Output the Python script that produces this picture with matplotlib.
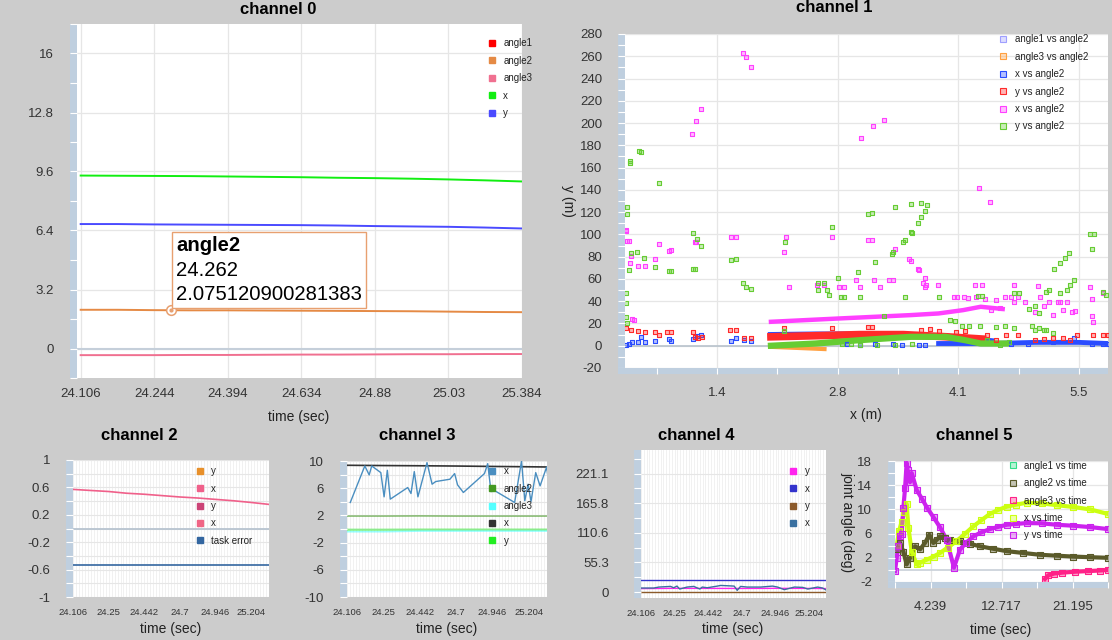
import matplotlib
matplotlib.use("Agg")
import matplotlib.pyplot as plt
from matplotlib.lines import Line2D
from matplotlib.patches import Rectangle
from matplotlib.colors import to_rgba
from matplotlib.ticker import MultipleLocator, FixedLocator, FixedFormatter, FuncFormatter
from matplotlib.offsetbox import TextArea, VPacker, AnnotationBbox

plt.rcParams['font.family'] = ['Liberation Sans', 'DejaVu Sans']
plt.rcParams['axes.unicode_minus'] = False

# --- channel 0 : time series ---
ch0_times = ['24.106', '24.244', '24.394', '24.634', '24.88', '25.03', '25.384']
ch0_idx = [0, 0.5, 1, 1.5, 2, 2.5, 3, 3.5, 4, 4.5, 5, 5.5, 6]
ch0_angle1 = []
ch0_angle2 = [2.10, 2.10, 2.08, 2.07, 2.07, 2.06, 2.05, 2.04, 2.03, 2.02, 2.00, 1.98, 1.97]
ch0_angle3 = [-0.36, -0.36, -0.36, -0.35, -0.35, -0.34, -0.33, -0.33, -0.32, -0.31, -0.31, -0.30, -0.30]
ch0_x = [9.38, 9.37, 9.36, 9.35, 9.33, 9.31, 9.29, 9.26, 9.24, 9.21, 9.17, 9.12, 9.06]
ch0_y = [6.75, 6.75, 6.73, 6.72, 6.71, 6.70, 6.69, 6.67, 6.64, 6.62, 6.60, 6.56, 6.51]
ch0_labels = ['angle1', 'angle2', 'angle3', 'x', 'y']
ch0_colors = ['#ff0000', '#e58a45', '#f07090', '#11ee11', '#4a4aff']
tip_label = 'angle2'
tip_time = '24.262'
tip_value = 2.075120900281383
tip_index = 1.23

# --- channel 1 : x/y vs angle2 scatter ---
ch1_labels = ['angle1 vs angle2', 'angle3 vs angle2', 'x vs angle2', 'y vs angle2', 'x vs angle2', 'y vs angle2']
ch1_colors = ['#9f9fff', '#ffa040', '#2a4cff', '#ff2a2a', '#ff40ff', '#66cc33']
mag_x = [1.67, 1.71, 1.76, 1.09, 1.14, 1.19, 3.02, 3.15, 3.28, 4.36, 4.48, 0.34, 0.34, 0.35, 0.37, 0.38, 0.39,
         0.47, 0.55, 0.72, 0.67, 0.83, 0.85, 1.12, 1.14, 1.53, 1.59, 2.16, 2.14, 2.20, 0.41, 0.43, 2.68, 2.51,
         2.59, 2.77, 2.82, 2.96, 3.00, 3.10, 3.14, 3.16, 3.23, 3.34, 3.38, 3.40, 3.56, 3.59, 3.66, 3.68, 3.72,
         3.74, 3.76, 3.74, 3.89, 4.07, 4.11, 4.19, 4.23, 4.31, 4.39, 4.33, 4.43, 4.55, 4.76, 4.66, 4.72, 4.76,
         4.80, 4.88, 5.03, 5.06, 5.16, 5.28, 5.26, 5.36, 5.32, 5.42, 5.63, 5.65, 5.65, 5.66, 5.77, 4.50, 4.60,
         5.00, 5.10, 5.20, 5.45]
mag_y = [263, 259, 250, 190, 202, 213, 187, 197, 203, 142, 129, 104, 103, 94, 94, 74, 81,
         72, 72, 91, 78, 85, 86, 93, 93, 98, 98, 98, 84, 53, 24, 23, 98, 55,
         55, 53, 53, 59, 53, 95, 95, 59, 53, 59, 59, 87, 78, 76, 69, 68, 56,
         53, 55, 61, 55, 44, 44, 44, 43, 55, 55, 44, 42, 41, 55, 44, 44, 39,
         44, 39, 54, 44, 39, 39, 39, 39, 32, 30, 53, 42, 27, 21, 47, 32, 34,
         30, 36, 28, 31]
mag_band_x = [1.99, 2.77, 3.58, 3.90, 4.18, 4.38, 4.63]
mag_band_y = [21.5, 24.5, 27.5, 29, 32, 35, 33]
grn_x = [0.35, 0.35, 0.38, 0.38, 0.49, 0.51, 0.72, 0.34, 0.34, 0.34, 0.35, 0.40, 0.46, 0.54, 0.37, 0.67,
         0.83, 0.85, 1.10, 1.15, 1.19, 1.10, 1.12, 1.53, 1.59, 1.67, 1.71, 1.76, 2.14, 2.15, 2.53, 2.53,
         2.59, 2.63, 2.65, 2.69, 2.75, 2.79, 2.82, 2.98, 3.00, 3.10, 3.14, 3.18, 3.28, 3.40, 3.52, 3.37,
         3.38, 3.49, 3.52, 3.59, 3.60, 3.66, 3.70, 3.74, 3.77, 3.70, 3.58, 3.91, 4.35, 4.39, 4.82, 4.76,
         4.93, 5.00, 5.04, 5.12, 5.16, 5.22, 5.28, 5.34, 5.38, 5.28, 5.36, 5.40, 5.44, 5.63, 5.67, 5.65,
         5.77, 5.81, 2.80, 2.90, 3.00, 3.20, 3.40, 3.60, 4.03, 4.09, 4.17, 4.25, 4.37, 4.55, 4.66, 4.76,
         4.96, 5.04, 5.12, 5.20, 5.00, 5.10, 4.45, 4.60, 4.70]
grn_y = [125, 118, 166, 164, 175, 174, 146, 47, 38, 26, 20, 83, 84, 79, 68, 71,
         67, 67, 101, 96, 90, 69, 69, 77, 78, 56, 53, 51, 13, 93, 50, 56,
         56, 50, 46, 107, 61, 44, 44, 66, 44, 118, 119, 75, 27, 125, 44, 82,
         84, 93, 95, 102, 101, 110, 116, 121, 126, 128, 127, 44, 45, 45, 47, 47,
         33, 36, 29, 48, 50, 69, 74, 79, 83, 47, 50, 55, 59, 100, 100, 87,
         48, 46, 2, 2, 1, 1, 1, 2, 23, 22, 18, 18, 18, 17, 18, 16,
         18, 16, 14, 11, 14, 14, 5, 1, 3]
grn_band_x = [1.99, 2.50, 3.00, 3.58, 3.98, 4.20, 4.38, 4.67]
grn_band_y = [0, 2, 5, 8, 8, 5, 2, 2]
red_x = [0.34, 0.39, 0.47, 0.55, 0.67, 0.71, 0.81, 0.85, 1.10, 1.12, 1.16, 1.20, 1.52, 1.59, 1.68, 1.76,
         2.14, 2.68, 3.10, 3.14, 4.45, 4.55, 4.67, 4.80, 5.00, 5.32, 5.48, 5.66, 5.77, 5.83, 4.10, 4.20,
         3.90, 3.80, 3.70, 5.10, 5.20, 5.40]
red_y = [15.5, 14, 13, 12.5, 12, 10, 12.5, 12.5, 12.5, 8, 7, 8, 14, 14, 6.6, 6.6,
         15.5, 15.5, 17, 17, 10, 5, 10, 9.5, 5, 6.5, 9.5, 9.5, 9.5, 10, 12, 13,
         13, 15, 14, 6, 7, 5]
red_band_x = [1.99, 2.50, 3.00, 3.50, 4.00, 4.40]
red_band_y = [8, 9, 10, 10, 8, 6]
blu_x = [0.34, 0.37, 0.41, 0.47, 0.51, 0.55, 0.67, 0.83, 0.85, 1.10, 1.15, 1.19, 1.53, 1.59, 1.68, 1.76,
         2.86, 3.00, 3.18, 3.38, 3.48, 3.68, 3.74, 4.72, 4.92, 5.20, 5.44, 5.65, 5.77, 5.83]
blu_y = [0.6, 2, 3, 3.6, 7.5, 3, 4.5, 5.7, 4, 5.7, 8.7, 9.5, 4.5, 6.6, 5, 4,
         1.5, 0.6, 2, 2, 1, 0.6, 0.6, 2, 2, 3.5, 6.6, 2, 2, 2]
blu_band_x = [1.99, 2.50, 3.00, 3.50, 4.00, 4.50]
blu_band_y = [9.5, 10, 10, 9.5, 8, 4]
blu_band2_x = [3.90, 4.50, 5.00, 5.50, 5.83]
blu_band2_y = [2, 2, 3, 3, 2]
org_band_x = [1.99, 2.30, 2.60]
org_band_y = [-1, -2, -3]

# --- channel 2 ---
ch2_times = ['24.106', '24.25', '24.442', '24.7', '24.946', '25.204']
ch2_labels = ['y', 'x', 'y', 'x', 'task error']
ch2_colors = ['#e8902a', '#f0608a', '#cc4477', '#f06585', '#3366a0']
ch2_idx = [0, 0.5, 1, 1.5, 2, 2.5, 3, 3.5, 4, 4.5, 5, 5.5]
ch2_x = [0.571, 0.555, 0.54, 0.515, 0.50, 0.48, 0.46, 0.445, 0.425, 0.405, 0.38, 0.352]
ch2_task_error = [-0.526] * 12

# --- channel 3 ---
ch3_times = ['24.106', '24.25', '24.442', '24.7', '24.946', '25.204']
ch3_labels = ['x', 'angle2', 'angle3', 'x', 'y']
ch3_colors = ['#4a8ec0', '#449922', '#55ffff', '#333333', '#22ee22']
ch3_x1_idx = [0.09, 0.49, 0.61, 0.68, 0.93, 1.02, 1.11, 1.19, 1.67, 1.76, 1.85, 1.95, 2.20, 2.34, 2.44,
              2.83, 2.96, 3.04, 3.20, 3.78, 3.87, 3.96, 4.07, 4.61, 4.80, 4.89, 4.98, 5.06, 5.19, 5.31,
              5.49, 5.56]
ch3_x1 = [3.9, 9.27, 7.95, 9.27, 8.29, 4.73, 8.63, 4.39, 6.1, 5.22, 8.44, 4.73, 9.76, 6.59, 6.98,
          7.32, 8.15, 6.49, 5.37, 8.15, 9.61, 5.51, 5.61, 3.9, 10.0, 4.15, 6.59, 4.05, 8.29, 6.34,
          9.12, 6.2]
ch3_idx = [0, 1, 2, 3, 4, 5, 5.5]
ch3_angle2 = [1.9, 1.9, 1.92, 1.9, 1.9, 1.9, 1.9]
ch3_angle3 = [-0.4, -0.4, -0.3, -0.3, -0.3, -0.3, -0.3]
ch3_x2 = [9.37, 9.33, 9.30, 9.26, 9.20, 9.15, 9.12]
ch3_y = [-0.12, -0.12, -0.1, -0.1, -0.1, -0.1, -0.1]

# --- channel 4 ---
ch4_times = ['24.106', '24.25', '24.442', '24.7', '24.946', '25.204']
ch4_labels = ['y', 'x', 'y', 'x']
ch4_colors = ['#ff22ee', '#3333cc', '#8b5a2b', '#3a70a0']
ch4_ticks = [0, 55.275, 110.55, 165.825, 221.1]
ch4_ticklabels = ['0', '55.3', '110.6', '165.8', '221.1']
ch4_idx = [0, 1, 2, 3, 4, 5, 5.5]
ch4_y1 = [6.5, 7.0, 6.9, 6.8, 7.0, 6.9, 6.6]
ch4_x1 = [21.9, 21.9, 21.9, 21.9, 21.9, 21.9, 21.9]
ch4_y2 = [0, 0, 0, 0, 0, 0, 0]
ch4_x2_idx = [0.0, 0.38, 0.53, 0.88, 0.97, 1.07, 1.15, 1.37, 1.57, 1.75, 1.82, 1.97, 2.27, 2.37, 2.77,
              2.86, 2.96, 3.16, 3.56, 3.91, 4.06, 4.26, 4.56, 4.81, 4.96, 5.25, 5.40, 5.52]
ch4_x2 = [7.6, 7.6, 9.4, 10.6, 8.1, 11.2, 5.7, 9.4, 10.6, 5.7, 9.4, 8.1, 11.2, 12.4, 11.2,
          3.2, 10.6, 9.4, 9.4, 11.2, 9.4, 4.5, 9.4, 8.8, 5.7, 9.4, 7.6, 3.2]

# --- channel 5 : joint angles vs time ---
ch5_labels = ['angle1 vs time', 'angle2 vs time', 'angle3 vs time', 'x vs time', 'y vs time']
ch5_colors = ['#33dd88', '#5a5a2a', '#ff2288', '#ccff11', '#cc22ee']
a1_t, a1_v = [], []
a2_t = [0.2, 0.6, 1.0, 1.39, 1.8, 2.4, 3.0, 3.6, 4.1, 4.58, 5.0, 5.37, 6.0, 6.57, 7.76, 9.0, 10.15,
        11.7, 13.33, 15.3, 17.3, 19.3, 21.3, 23.3, 25.4]
a2_v = [3.5, 4.5, 3.0, 0.9, 2.0, 3.9, 3.4, 4.5, 5.8, 4.45, 5.0, 5.55, 5.2, 5.0, 4.7, 4.3, 3.9,
        3.5, 3.1, 2.8, 2.5, 2.35, 2.2, 2.1, 2.0]
a3_t = [17.9, 18.3, 19.0, 20.0, 21.5, 23.0, 24.5, 25.4]
a3_v = [-1.5, -0.9, -0.6, -0.45, -0.3, -0.2, -0.1, 0.0]
xt_t = [0.2, 0.5, 0.8, 1.1, 1.39, 1.6, 2.0, 2.59, 3.0, 3.8, 4.6, 5.37, 6.3, 7.3, 8.3, 9.35, 10.3,
        11.34, 12.3, 13.33, 14.5, 15.72, 17.5, 19.3, 21.3, 23.3, 25.4]
xt_v = [4.0, 6.5, 8.0, 9.5, 10.9, 7.0, 3.0, 0.9, 1.2, 1.7, 2.2, 2.8, 3.7, 4.7, 5.9, 7.2, 8.2,
        9.26, 9.9, 10.45, 10.8, 11.1, 11.0, 10.7, 10.4, 10.0, 9.26]
yt_t = [0.0, 0.2, 0.4, 0.6, 0.8, 1.0, 1.2, 1.39, 1.5, 1.79, 2.0, 2.59, 3.2, 3.86, 4.6, 5.37, 6.17,
        7.04, 7.76, 8.5, 9.35, 10.3, 11.34, 12.3, 13.33, 14.5, 15.72, 17.5, 19.3, 21.3, 23.3, 25.4]
yt_v = [-0.2, 2.0, 4.0, 5.6, 6.0, 10.3, 13.5, 17.7, 16.5, 14.5, 16.0, 13.2, 11.8, 10.2, 8.7, 7.06,
        5.0, 0.36, 3.36, 4.5, 5.55, 6.2, 6.75, 7.1, 7.46, 7.6, 7.74, 7.7, 7.46, 7.3, 7.08, 6.75]

# --- layout / styling ---
W, H = 1112, 640
BAND = '#bfcfdf'
GRID = '#e6e6e6'
TICKC = '#333333'

fig = plt.figure(figsize=(W / 100, H / 100), dpi=100, facecolor='#cccccc')


def panel(l, t, r, b, bottom=False, ypad=11.5, xpad=7.5, xsize=9.5):
    ax = fig.add_axes([l / W, 1 - b / H, (r - l) / W, (b - t) / H])
    ax.set_facecolor('white')
    for s in ax.spines.values():
        s.set_visible(False)
    ax.set_axisbelow(True)
    ax.tick_params(axis='y', which='both', left=False, labelleft=False)
    lb = fig.add_axes([(l - 7) / W, 1 - b / H, 7 / W, (b - t) / H], sharey=ax)
    lb.set_facecolor(BAND)
    for s in lb.spines.values():
        s.set_visible(False)
    lb.tick_params(axis='x', which='both', bottom=False, labelbottom=False)
    lb.tick_params(axis='y', which='both', direction='in', length=5.04, width=0.8,
                   color='white', pad=ypad, labelsize=9.5, labelcolor=TICKC)
    if bottom:
        bb = fig.add_axes([l / W, 1 - (b + 6) / H, (r - l) / W, 6 / H], sharex=ax)
        bb.set_facecolor(BAND)
        for s in bb.spines.values():
            s.set_visible(False)
        bb.tick_params(axis='y', which='both', left=False, labelleft=False)
        bb.tick_params(axis='x', which='both', direction='in', length=4.32, width=0.8,
                       color='white', pad=xpad, labelsize=xsize, labelcolor=TICKC)
        ax.tick_params(axis='x', which='both', bottom=False, labelbottom=False)
        fig.add_artist(Rectangle(((l - 7) / W, 1 - (b + 6) / H), 7 / W, 6 / H,
                                 transform=fig.transFigure, fc=BAND, ec='none'))
    else:
        ax.tick_params(axis='x', which='both', length=0, pad=xpad, labelsize=xsize, labelcolor=TICKC)
    return ax


def add_legend(ax, labels, colors, cx, cy, hollow=False, ms=4.0):
    if hollow:
        handles = [Line2D([], [], ls='none', marker='s', ms=ms, mec=c, mfc=to_rgba(c, 0.35), mew=0.8)
                   for c in colors]
    else:
        handles = [Line2D([], [], ls='none', marker='s', ms=ms, mec=c, mfc=c) for c in colors]
    leg = ax.legend(handles, labels, loc='upper left', bbox_to_anchor=((cx - 3.9) / W, 1 - (cy - 5.5) / H),
                    bbox_transform=fig.transFigure, frameon=False, fontsize=7, handlelength=0.8,
                    handletextpad=0.75, labelspacing=0.76, borderpad=0, borderaxespad=0)
    for txt in leg.get_texts():
        txt.set_color('#222222')


def title(cx, cy, s):
    fig.text(cx / W, 1 - cy / H, s, ha='center', va='center', fontsize=12, weight='bold')


def label(cx, cy, s, rot=0):
    fig.text(cx / W, 1 - cy / H, s, ha='center', va='center', fontsize=10, rotation=rot, color='#222222')


def clean(v, p):
    return f'{v:.1f}'.rstrip('0').rstrip('.')


# channel 0
ax0 = panel(77, 24, 522, 378)
ax0.set_xlim(-0.05, 6)
ax0.set_ylim(-1.6, 17.6)
ax0.xaxis.set_major_locator(FixedLocator(range(len(ch0_times))))
ax0.xaxis.set_major_formatter(FixedFormatter(ch0_times))
ax0.yaxis.set_major_locator(MultipleLocator(3.2))
ax0.yaxis.set_minor_locator(MultipleLocator(1.6))
ax0.yaxis.set_major_formatter(FuncFormatter(lambda v, p: f'{v:g}'))
ax0.grid(True, which='major', color=GRID, lw=0.9)
ax0.axhline(0, color='#c5cfda', lw=1.5, zorder=1.5)
ax0.plot([], [], color=ch0_colors[0])
for vals, c in zip([ch0_angle2, ch0_angle3, ch0_x, ch0_y], ch0_colors[1:]):
    ax0.plot(ch0_idx, vals, color=c, lw=1.4, zorder=3)
add_legend(ax0, ch0_labels, ch0_colors, 492, 44)
ax0.plot(tip_index, tip_value, 'o', ms=7, mfc='white', mec='#e8a070', mew=1.1, zorder=5)
ax0.plot(tip_index, tip_value, 'o', ms=2, mfc='#e8a070', mec='#e8a070', zorder=6)
tip_lines = VPacker(children=[TextArea(tip_label, textprops=dict(size=14.6, weight='bold', color='black')),
                              TextArea(tip_time, textprops=dict(size=14.6, color='black')),
                              TextArea(str(tip_value), textprops=dict(size=14.6, color='black'))],
                    align='left', pad=0, sep=4)
ab = AnnotationBbox(tip_lines, (tip_index, tip_value), xybox=(5, 6), xycoords='data',
                    boxcoords='offset pixels', box_alignment=(0, 0), pad=0.3,
                    bboxprops=dict(fc='white', ec='#e8a070', lw=1, boxstyle='square'), zorder=7)
ax0.add_artist(ab)
title(278, 9, 'channel 0')
label(299, 417, 'time (sec)')

# channel 1
ax1 = panel(625, 34, 1108, 368, bottom=True, xpad=9)
ax1.set_xlim(0.327, 5.83)
ax1.set_ylim(-20, 280)
ax1.xaxis.set_major_locator(MultipleLocator(1.375))
ax1.xaxis.set_minor_locator(MultipleLocator(0.6875))
ax1.xaxis.set_major_formatter(FuncFormatter(lambda v, p: f'{v:.1f}'))
ax1.yaxis.set_major_locator(MultipleLocator(20))
ax1.yaxis.set_minor_locator(MultipleLocator(10))
ax1.yaxis.set_major_formatter(FuncFormatter(lambda v, p: f'{v:g}'))
ax1.grid(True, which='major', color=GRID, lw=0.9)
ax1.axhline(0, color='#b8c2cc', lw=1.2, zorder=1.5)
for bx, by, c, w in [(org_band_x, org_band_y, ch1_colors[1], 3.0),
                     (blu_band_x, blu_band_y, ch1_colors[2], 4.5),
                     (blu_band2_x, blu_band2_y, ch1_colors[2], 3.5),
                     (red_band_x, red_band_y, ch1_colors[3], 5.5),
                     (mag_band_x, mag_band_y, ch1_colors[4], 3.2),
                     (grn_band_x, grn_band_y, ch1_colors[5], 4.5)]:
    ax1.plot(bx, by, color=c, lw=w, zorder=3)
for sx, sy, c in [(blu_x, blu_y, ch1_colors[2]), (red_x, red_y, ch1_colors[3]),
                  (mag_x, mag_y, ch1_colors[4]), (grn_x, grn_y, ch1_colors[5])]:
    ax1.scatter(sx, sy, marker='s', s=10, facecolors=to_rgba(c, 0.35), edgecolors=c, linewidths=0.8, zorder=4)
add_legend(ax1, ch1_labels, ch1_colors, 1003.5, 40, hollow=True, ms=4.5)
title(834, 8, 'channel 1')
label(866, 415, 'x (m)')
label(568, 201, 'y (m)', rot=270)

# channel 2
ax2 = panel(73, 460, 269, 597, xpad=8, xsize=6.8)
ax2.set_xlim(0, 5.5)
ax2.set_ylim(-1, 1)
ax2.xaxis.set_major_locator(FixedLocator(range(len(ch2_times))))
ax2.xaxis.set_major_formatter(FixedFormatter(ch2_times))
ax2.xaxis.set_minor_locator(MultipleLocator(1 / 12))
ax2.yaxis.set_major_locator(MultipleLocator(0.4, offset=0.2))
ax2.yaxis.set_minor_locator(MultipleLocator(0.2))
ax2.yaxis.set_major_formatter(FuncFormatter(clean))
ax2.grid(True, axis='y', which='both', color=GRID, lw=0.8)
ax2.grid(True, axis='x', which='both', color='#efefef', lw=0.6)
ax2.axhline(0, color='#b8c4d0', lw=1.3, zorder=1.5)
ax2.plot(ch2_idx, ch2_x, color=ch2_colors[1], lw=1.2, zorder=3)
ax2.plot(ch2_idx, ch2_task_error, color=ch2_colors[4], lw=1.2, zorder=3)
add_legend(ax2, ch2_labels, ch2_colors, 200, 471.7)
title(139, 435, 'channel 2')
label(171, 629, 'time (sec)')

# channel 3
ax3 = panel(347, 461, 547, 597, xpad=8, xsize=6.8)
ax3.set_xlim(0, 5.5)
ax3.set_ylim(-10, 10)
ax3.xaxis.set_major_locator(FixedLocator(range(len(ch3_times))))
ax3.xaxis.set_major_formatter(FixedFormatter(ch3_times))
ax3.xaxis.set_minor_locator(MultipleLocator(1 / 12))
ax3.yaxis.set_major_locator(MultipleLocator(4, offset=2))
ax3.yaxis.set_minor_locator(MultipleLocator(2))
ax3.yaxis.set_major_formatter(FuncFormatter(lambda v, p: f'{v:g}'))
ax3.grid(True, axis='y', which='both', color=GRID, lw=0.8)
ax3.grid(True, axis='x', which='both', color='#efefef', lw=0.6)
ax3.plot(ch3_idx, ch3_y, color=ch3_colors[4], lw=1.8, alpha=0.45, zorder=3)
ax3.plot(ch3_idx, ch3_angle3, color=ch3_colors[2], lw=1.2, alpha=0.6, zorder=3)
ax3.plot(ch3_idx, ch3_angle2, color=ch3_colors[1], lw=1.0, alpha=0.7, zorder=3)
ax3.plot(ch3_idx, ch3_x2, color=ch3_colors[3], lw=1.2, zorder=3)
ax3.plot(ch3_x1_idx, ch3_x1, color=ch3_colors[0], lw=1.0, zorder=4)
add_legend(ax3, ch3_labels, ch3_colors, 492.3, 471.7)
title(417, 435, 'channel 3')
label(447, 629, 'time (sec)')

# channel 4
ax4 = panel(641, 450, 826, 598, ypad=18, xpad=8, xsize=6.8)
ax4.set_xlim(0, 5.5)
ax4.set_ylim(-11, 265)
ax4.xaxis.set_major_locator(FixedLocator(range(len(ch4_times))))
ax4.xaxis.set_major_formatter(FixedFormatter(ch4_times))
ax4.xaxis.set_minor_locator(MultipleLocator(1 / 12))
ax4.yaxis.set_major_locator(FixedLocator(ch4_ticks))
ax4.yaxis.set_major_formatter(FixedFormatter(ch4_ticklabels))
ax4.yaxis.set_minor_locator(MultipleLocator(ch4_ticks[1] / 2))
ax4.grid(True, axis='y', which='major', color=GRID, lw=0.8)
ax4.grid(True, axis='x', which='both', color='#efefef', lw=0.6)
ax4.plot(ch4_idx, ch4_y2, color=ch4_colors[2], lw=1.0, zorder=3)
ax4.plot(ch4_idx, ch4_y1, color=ch4_colors[0], lw=1.0, zorder=3)
ax4.plot(ch4_x2_idx, ch4_x2, color=ch4_colors[3], lw=1.0, zorder=4)
ax4.plot(ch4_idx, ch4_x1, color=ch4_colors[1], lw=1.0, zorder=3)
add_legend(ax4, ch4_labels, ch4_colors, 793.3, 471.7)
title(696, 435, 'channel 4')
label(733, 629, 'time (sec)')

# channel 5
ax5 = panel(895, 461, 1108, 582, bottom=True, xpad=9.5)
ax5.set_xlim(0, 25.434)
ax5.set_ylim(-2, 18)
ax5.xaxis.set_major_locator(MultipleLocator(8.478, offset=4.239))
ax5.xaxis.set_minor_locator(MultipleLocator(4.239))
ax5.xaxis.set_major_formatter(FuncFormatter(lambda v, p: f'{v:.3f}'))
ax5.yaxis.set_major_locator(MultipleLocator(4, offset=2))
ax5.yaxis.set_minor_locator(MultipleLocator(2))
ax5.yaxis.set_major_formatter(FuncFormatter(lambda v, p: f'{v:g}'))
ax5.grid(True, which='major', color=GRID, lw=0.9)
ax5.axhline(0, color='#c8d0d8', lw=1.2, zorder=1.5)
for st, sv, c in [(a1_t, a1_v, ch5_colors[0]), (a3_t, a3_v, ch5_colors[2]), (a2_t, a2_v, ch5_colors[1]),
                  (xt_t, xt_v, ch5_colors[3]), (yt_t, yt_v, ch5_colors[4])]:
    ax5.plot(st, sv, color=c, lw=3.0, zorder=3)
    ax5.scatter(st, sv, marker='s', s=14, facecolors=to_rgba(c, 0.4), edgecolors=c, linewidths=0.8, zorder=4)
add_legend(ax5, ch5_labels, ch5_colors, 1013.3, 466.3, hollow=True, ms=4.8)
title(974, 435, 'channel 5')
label(1001, 630, 'time (sec)')
label(847, 522, 'joint angle (deg)', rot=270)

fig.savefig('out.png', dpi=100, facecolor=fig.get_facecolor())
